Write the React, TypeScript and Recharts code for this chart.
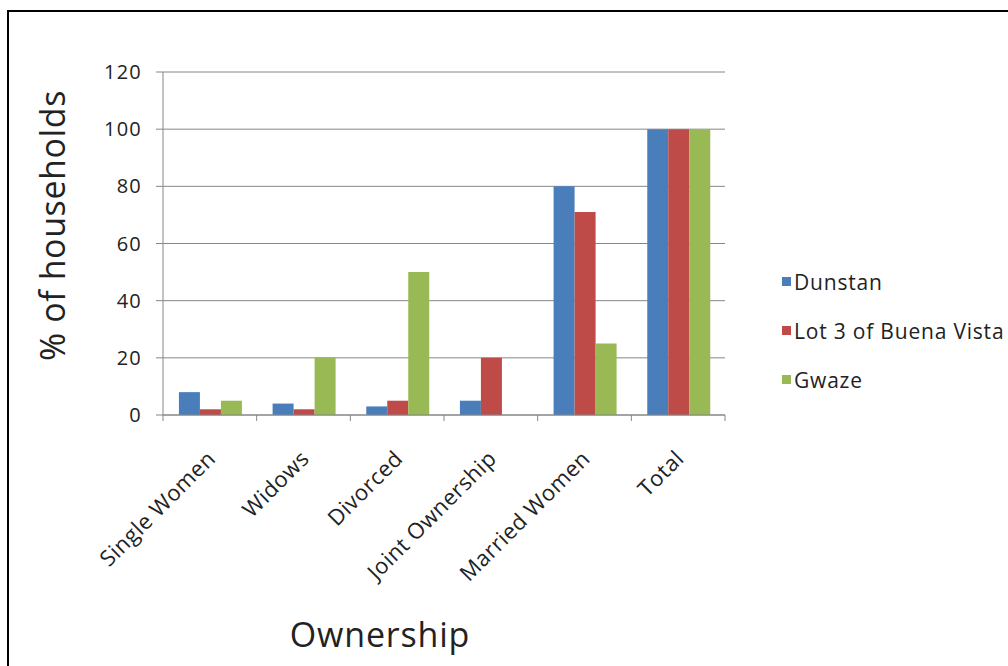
import { Bar, BarChart, CartesianGrid, Legend, XAxis, YAxis } from "recharts"

const categories = ["Single Women", "Widows", "Divorced", "Joint Ownership", "Married Women", "Total"]
const dunstan = [8, 4, 3, 5, 80, 100]
const lot3 = [2, 2, 5, 20, 71, 100]
const gwaze = [5, 20, 50, 0, 25, 100]
const yTicks = [0, 20, 40, 60, 80, 100, 120]
const seriesOrder = ["dunstan", "lot3", "gwaze"]

const data = categories.map((name, i) => ({
  name,
  dunstan: dunstan[i],
  lot3: lot3[i],
  gwaze: gwaze[i],
}))

const font = "'Open Sans', sans-serif"
const axisGrey = "#868686"

// label rotated like Excel, plus the tick marks on the category edges
const OwnershipTick = (props: any) => {
  const { x, y, payload, index, visibleTicksCount } = props
  const half = payload.offset || 0
  return (
    <g>
      <line x1={x - half} x2={x - half} y1={y} y2={y + 6} stroke={axisGrey} />
      {index === visibleTicksCount - 1 && (
        <line x1={x + half} x2={x + half} y1={y} y2={y + 6} stroke={axisGrey} />
      )}
      <g transform={`translate(${x + 7},${y + 45})`}>
        <text
          textAnchor="end"
          transform="rotate(-45)"
          fontSize={22}
          letterSpacing={0.5}
          fontFamily={font}
          fill="#222"
        >
          {payload.value}
        </text>
      </g>
    </g>
  )
}

const renderLegend = (props: any) => {
  const { payload } = props
  return (
    <div style={{ fontFamily: font, fontSize: 21, letterSpacing: 0.8, color: "#222" }}>
      {payload.map((entry: any) => (
        <div key={entry.value} style={{ height: 49, display: "flex", alignItems: "center" }}>
          <span style={{ width: 9, height: 9, background: entry.color, marginRight: 3 }} />
          <span>{entry.value}</span>
        </div>
      ))}
    </div>
  )
}

export default function App() {
  return (
    <div
      style={{
        position: "absolute",
        left: 7,
        top: 10,
        width: 1001,
        height: 656,
        borderTop: "2px solid #000",
        borderLeft: "2px solid #000",
        boxSizing: "border-box",
        background: "#fff",
      }}
    >
      <BarChart
        width={999}
        height={654}
        data={data}
        margin={{ top: 60, right: 283, left: 0, bottom: 0 }}
        barCategoryGap="17%"
        barGap={0}
      >
        <CartesianGrid vertical={false} stroke={axisGrey} />
        <XAxis
          dataKey="name"
          interval={0}
          height={251}
          tickLine={false}
          tickSize={0}
          tickMargin={0}
          axisLine={{ stroke: axisGrey }}
          tick={<OwnershipTick />}
          label={{
            value: "Ownership",
            position: "center",
            dx: -64,
            dy: 94,
            fontSize: 34,
            letterSpacing: 0.8,
            fontFamily: font,
            fill: "#222",
          }}
        />
        <YAxis
          width={154}
          domain={[0, 120]}
          ticks={yTicks}
          tickSize={7}
          tickMargin={14}
          axisLine={{ stroke: axisGrey }}
          tickLine={{ stroke: axisGrey }}
          tick={{ fontSize: 20, letterSpacing: 1.2, fontFamily: font, fill: "#222" }}
          label={{
            value: "% of households",
            angle: -90,
            position: "center",
            dx: -33,
            dy: -18,
            fontSize: 34,
            letterSpacing: 0.6,
            fontFamily: font,
            fill: "#222",
          }}
        />
        <Legend
          layout="vertical"
          align="center"
          verticalAlign="middle"
          itemSorter={(item: any) => seriesOrder.indexOf(item.dataKey)}
          content={renderLegend}
          wrapperStyle={{ left: 773, top: 245, width: 226 }}
        />
        <Bar dataKey="dunstan" name="Dunstan" fill="#4A7EBB" isAnimationActive={false} />
        <Bar dataKey="lot3" name="Lot 3 of Buena Vista" fill="#BE4B48" isAnimationActive={false} />
        <Bar dataKey="gwaze" name="Gwaze" fill="#98B954" isAnimationActive={false} />
      </BarChart>
    </div>
  )
}
